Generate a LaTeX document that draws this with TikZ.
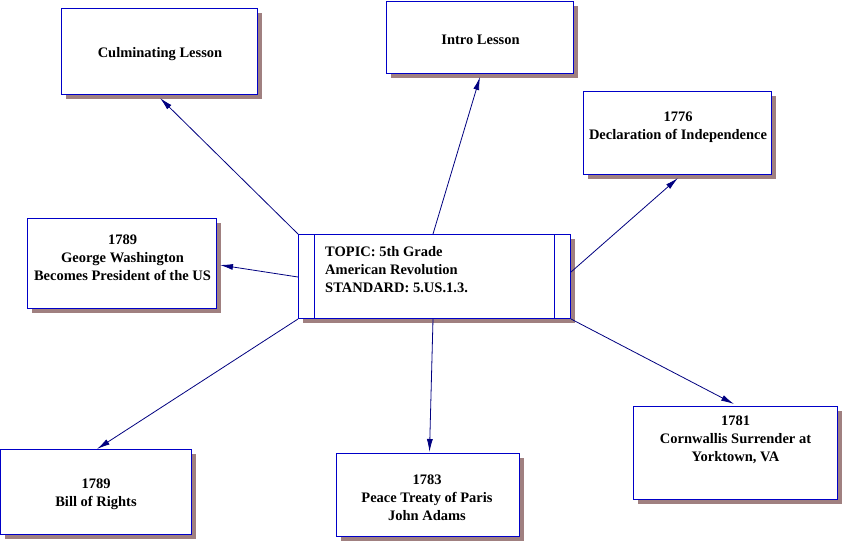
\documentclass[tikz,border=0pt]{standalone}
\usepackage{fontspec}
\setmainfont{Liberation Serif}
\usetikzlibrary{arrows.meta}
\definecolor{boxblue}{RGB}{0,0,200}
\definecolor{arrownavy}{RGB}{0,0,128}
\definecolor{shadowc}{RGB}{160,128,128}
\tikzset{
  x=1pt, y=-1pt,
  box/.style={draw=boxblue, line width=1.1pt, fill=white, inner sep=0pt,
    minimum width=#1},
  sh/.style={fill=shadowc, draw=none},
  txt/.style={align=center, inner sep=0pt, font=\bfseries\fontsize{14.5}{18}\selectfont},
  conn/.style={draw=arrownavy, line width=0.8pt, -{Latex[length=13pt,width=6pt]}},
}
\newcommand{\shbox}[5]{% name, x1, y1, x2, y2
  \fill[sh] (#2+4.5,#3+4.5) rectangle (#4+4.5,#5+4.5);
  \node[box=#4-#2, minimum height=#5-#3, anchor=north west] (#1) at (#2,#3) {};
}
\begin{document}
\begin{tikzpicture}
\useasboundingbox (0,0) rectangle (842,541);
\fill[white] (0,0) rectangle (842,541);

\shbox{cul}{61}{8}{257}{94}
\shbox{intro}{386}{1}{573}{73}
\shbox{decl}{583}{91}{771}{174}
\shbox{gw}{27}{218}{216}{308}
\shbox{ctr}{298}{234}{570}{318}
\shbox{bill}{0}{449}{191}{534}
\shbox{peace}{336}{453}{519}{536}
\shbox{corn}{633}{406}{837}{499}
\draw[boxblue, line width=0.9pt] (314,234) -- (314,318) (554,234) -- (554,318);

\node[txt] (culT) at (160,54.5) {Culminating Lesson};
\node[txt] (introT) at (480.5,40) {Intro Lesson};
\node[txt] (declT) at (678,127) {1776\\Declaration of Independence};
\node[txt] (gwT) at (122.5,257.5) {1789\\George Washington\\Becomes President of the US};
\node[txt, align=left, anchor=west] (ctrT) at (325,269.5) {TOPIC: 5th Grade\\American Revolution\\STANDARD: 5.US.1.3.};
\node[txt] (billT) at (96,494.5) {1789\\Bill of Rights};
\node[txt] (peaceT) at (427,497.5) {1783\\Peace Treaty of Paris\\John Adams};
\node[txt] (cornT) at (735.5,439.5) {1781\\Cornwallis Surrender at\\Yorktown, VA};

\coordinate (s1) at (298,234);
\coordinate (s2) at (433,234);
\coordinate (s3) at (571,272);
\coordinate (s4) at (298,277);
\coordinate (s5) at (298,319);
\coordinate (s6) at (433,319);
\coordinate (s7) at (571,319);
\coordinate (e1) at (160,98);
\coordinate (e2) at (480,77);
\coordinate (e3) at (678,178);
\coordinate (e4) at (220,265);
\coordinate (e5) at (97,449);
\coordinate (e6) at (429.5,452);
\coordinate (e7) at (734,404);

\draw[conn] (s1) -- (e1);
\draw[conn] (s2) -- (e2);
\draw[conn] (s3) -- (e3);
\draw[conn] (s4) -- (e4);
\draw[conn] (s5) -- (e5);
\draw[conn] (s6) -- (e6);
\draw[conn] (s7) -- (e7);
\end{tikzpicture}
\end{document}
